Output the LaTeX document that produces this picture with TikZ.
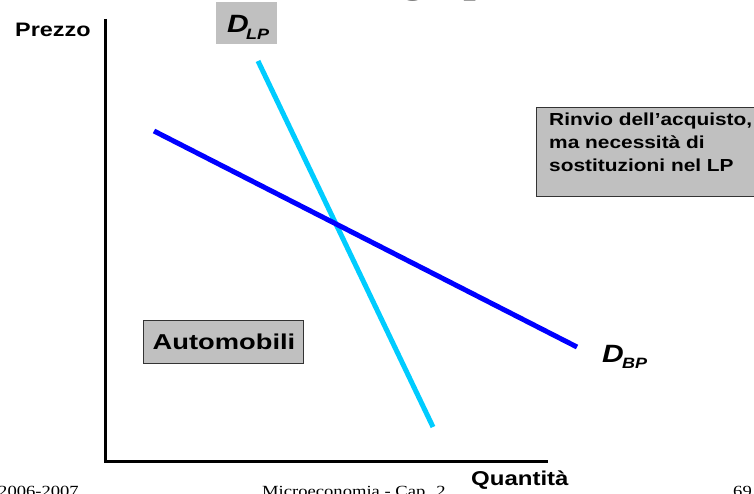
\documentclass[tikz,border=0pt]{standalone}
\usepackage{fontspec}
\setmainfont{Liberation Sans}
\newfontfamily\serifft{Liberation Serif}
\usepackage{graphicx}
\definecolor{lpblue}{HTML}{00CCFF}
\definecolor{bpblue}{HTML}{0000FF}
\definecolor{boxgray}{HTML}{C0C0C0}
\definecolor{boxline}{HTML}{333333}
\newcommand{\sx}[1]{\scalebox{1.2}[1]{#1}}
\newcommand{\sxx}[1]{\scalebox{1.27}[1]{#1}}
\tikzset{
  axisline/.style={line width=3pt, black},
  lpline/.style={line width=5pt, lpblue},
  bpline/.style={line width=5pt, bpblue},
  graybox/.style={fill=boxgray, draw=boxline, line width=1pt},
  plainbox/.style={fill=boxgray},
  lbl/.style={inner sep=0pt, anchor=base west},
}
\begin{document}
\begin{tikzpicture}[x=1pt,y=-1pt]
\useasboundingbox (0,0) rectangle (754,494);
% title fragments
\node[lbl, font=\serifft\fontsize{44}{44}\selectfont] (tg) at (400,-8) {\sx{g}};
\node[lbl, font=\serifft\fontsize{44}{44}\selectfont] (tp) at (463,-8) {\sx{p}};
% axes
\coordinate (O) at (105,461);
\coordinate (ytop) at (105,19);
\coordinate (xend) at (548,461);
\draw[axisline] (ytop) -- (O) -- (xend);
% labels
\node[lbl, font=\bfseries\fontsize{19.5}{22}\selectfont] (prezzo) at (15,37) {\sx{Prezzo}};
\node[lbl, font=\bfseries\fontsize{20}{22}\selectfont] (quant) at (471,485) {\sx{Quantità}};
% D_LP box
\path[plainbox] (216,2) rectangle (277,44);
\node[lbl, font=\bfseries\itshape\fontsize{25}{25}\selectfont] (dlp) at (227,33) {\sx{D}};
\node[lbl, font=\bfseries\itshape\fontsize{15}{15}\selectfont] (dlps) at (246,40) {\sx{LP}};
% curves
\coordinate (lp1) at (258,61);
\coordinate (lp2) at (433,427);
\coordinate (bp1) at (154,131);
\coordinate (bp2) at (577,347);
\draw[lpline] (lp1) -- (lp2);
\draw[bpline] (bp1) -- (bp2);
% D_BP
\node[lbl, font=\bfseries\itshape\fontsize{25}{25}\selectfont] (dbp) at (602,362) {\sx{D}};
\node[lbl, font=\bfseries\itshape\fontsize{15}{15}\selectfont] (dbps) at (622,368) {\sx{BP}};
% Rinvio box
\draw[graybox] (760,108) -- (536,108) -- (536,197) -- (760,197);
\node[lbl, font=\bfseries\fontsize{17.4}{20}\selectfont] (r1) at (549,126) {\sx{Rinvio dell’acquisto,}};
\node[lbl, font=\bfseries\fontsize{17.4}{20}\selectfont] (r2) at (549,149) {\sx{ma necessità di}};
\node[lbl, font=\bfseries\fontsize{17.4}{20}\selectfont] (r3) at (549,172) {\sx{sostituzioni nel LP}};
% Automobili box
\draw[graybox] (143,320) rectangle (303,363);
\node[font=\bfseries\fontsize{21.5}{22}\selectfont, inner sep=0pt] (auto) at (224,342) {\sxx{Automobili}};
% footer
\node[lbl, font=\serifft\fontsize{15.5}{16}\selectfont] (f1) at (-2,496) {\sx{2006-2007}};
\node[lbl, font=\serifft\fontsize{15.5}{16}\selectfont] (f2) at (262,496) {\sx{Microeconomia - Cap. 2}};
\node[lbl, font=\serifft\fontsize{15.5}{16}\selectfont] (f3) at (733,496) {\sx{69}};
\end{tikzpicture}
\end{document}
